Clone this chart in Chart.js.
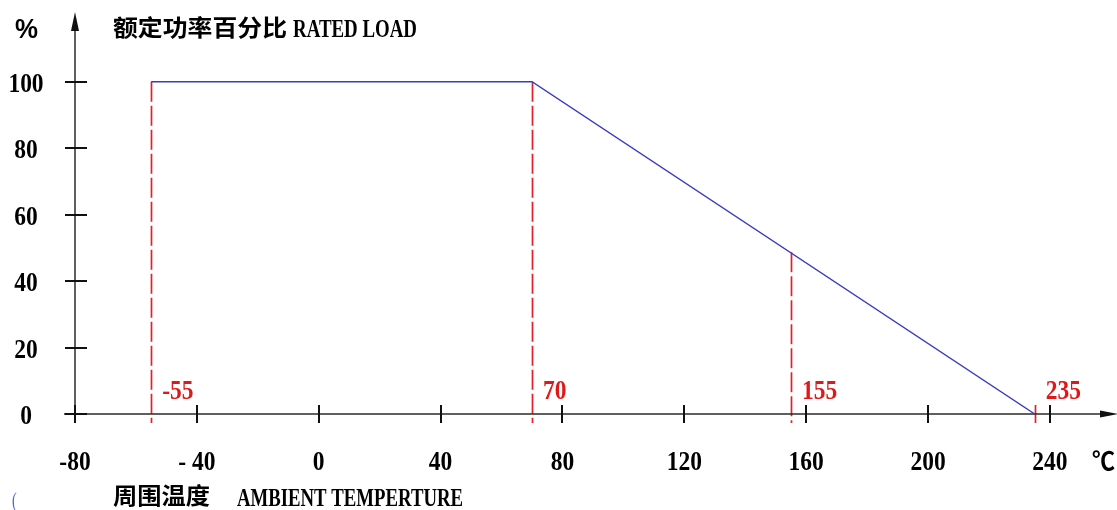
<!DOCTYPE html>
<html><head><meta charset="utf-8">
<script src="https://cdn.jsdelivr.net/npm/chart.js@4"></script>
<style>html,body{margin:0;padding:0;background:#fff;overflow:hidden}canvas{display:block}</style>
</head><body>
<canvas id="c" width="1117" height="510"></canvas>
<script>
// ---- data ----
const loadTemps = [-55, 70, 235];
const loadValues = [100, 100, 0];
const xTickValues = [-80, -40, 0, 40, 80, 120, 160, 200, 240];
const xTickLabels = ['-80', '- 40', '0', '40', '80', '120', '160', '200', '240'];
const yTickValues = [0, 20, 40, 60, 80, 100];
const yTickLabels = ['0', '20', '40', '60', '80', '100'];
const markerTemps = [-55, 70, 155, 235];
const markerLoads = [100, 100, 48.7, 0];
const markerLabels = ['-55', '70', '155', '235'];
const titleZh = '额定功率百分比';
const titleEn = 'RATED LOAD';
const xTitleZh = '周围温度';
const xTitleEn = 'AMBIENT TEMPERTURE';
const yUnit = '%';
const xUnit = '℃';

// ---- helpers ----
const NUM_FONT = 'bold 27px "Liberation Serif"';
const NUM_SX = 0.87;
function drawText(ctx, text, x, y, font, color, opts) {
  opts = opts || {};
  ctx.save();
  ctx.font = font; ctx.fillStyle = color; ctx.textBaseline = 'alphabetic'; ctx.textAlign = 'left';
  const w = ctx.measureText(text).width;
  let sx = opts.scaleX || 1;
  if (opts.width) sx = opts.width / w;
  const dw = w * sx;
  let left = x;
  if (opts.align === 'center') left = x - dw / 2;
  else if (opts.align === 'right') left = x - dw;
  ctx.translate(left, y); ctx.scale(sx, 1);
  ctx.fillText(text, 0, 0);
  ctx.restore();
}

const decor = {
  id: 'decor',
  beforeDatasetsDraw(chart) {
    const ctx = chart.ctx, xs = chart.scales.x, ys = chart.scales.y;
    const ax = xs.getPixelForValue(xs.min), ay = ys.getPixelForValue(0);
    ctx.save();
    // red marker lines
    ctx.strokeStyle = '#e3202a'; ctx.lineWidth = 1.7; ctx.setLineDash([20, 4]);
    markerTemps.forEach((t, i) => {
      const px = Math.round(xs.getPixelForValue(t)) + 0.5;
      const top = Math.min(ys.getPixelForValue(markerLoads[i]), ay - 9);
      ctx.beginPath(); ctx.moveTo(px, top); ctx.lineTo(px, ay + 9); ctx.stroke();
    });
    ctx.setLineDash([]);
    // axes
    ctx.strokeStyle = '#2a2a2a'; ctx.lineWidth = 1.5;
    ctx.beginPath(); ctx.moveTo(ax - 11, ay); ctx.lineTo(xs.right - 12, ay); ctx.stroke();
    ctx.beginPath(); ctx.moveTo(ax, ay + 9); ctx.lineTo(ax, ys.top + 14); ctx.stroke();
    // arrowheads
    ctx.fillStyle = '#111';
    ctx.beginPath(); ctx.moveTo(ax, ys.top); ctx.lineTo(ax - 4, ys.top + 19); ctx.lineTo(ax + 4, ys.top + 19); ctx.closePath(); ctx.fill();
    ctx.beginPath(); ctx.moveTo(xs.right + 2, ay); ctx.lineTo(xs.right - 17, ay - 3.5); ctx.lineTo(xs.right - 17, ay + 3.5); ctx.closePath(); ctx.fill();
    // ticks
    ctx.strokeStyle = '#111'; ctx.lineWidth = 2;
    yTickValues.forEach(v => {
      const py = Math.round(ys.getPixelForValue(v));
      ctx.beginPath(); ctx.moveTo(ax - 10, py); ctx.lineTo(ax + 12, py); ctx.stroke();
    });
    xTickValues.forEach(v => {
      const px = Math.round(xs.getPixelForValue(v));
      ctx.beginPath(); ctx.moveTo(px, ay - 9); ctx.lineTo(px, ay + 9); ctx.stroke();
    });
    ctx.restore();
  },
  afterDraw(chart) {
    const ctx = chart.ctx, xs = chart.scales.x, ys = chart.scales.y;
    const ay = ys.getPixelForValue(0);
    // y tick labels
    yTickValues.forEach((v, i) => {
      drawText(ctx, yTickLabels[i], 26, ys.getPixelForValue(v) + 10, NUM_FONT, '#000', {align: 'center', scaleX: NUM_SX});
    });
    // x tick labels
    xTickValues.forEach((v, i) => {
      drawText(ctx, xTickLabels[i], xs.getPixelForValue(v), ay + 56, NUM_FONT, '#000', {align: 'center', scaleX: NUM_SX});
    });
    // marker labels
    markerTemps.forEach((t, i) => {
      drawText(ctx, markerLabels[i], xs.getPixelForValue(t) + 11, ay - 15, NUM_FONT, '#e01818', {scaleX: NUM_SX});
    });
    // units
    drawText(ctx, yUnit, 15, 38, 'bold 27px "Liberation Sans"', '#000', {width: 23});
    drawText(ctx, xUnit, 1092, ay + 56, 'bold 25px "Noto Sans CJK SC"', '#000', {width: 23});
    // titles
    drawText(ctx, titleZh, 113, 36, 'bold 23px "Noto Sans CJK SC"', '#000', {width: 174});
    drawText(ctx, titleEn, 293, 37, 'bold 26px "Liberation Serif"', '#000', {width: 124});
    drawText(ctx, xTitleZh, 113, 504, 'bold 23px "Noto Sans CJK SC"', '#000', {width: 97});
    drawText(ctx, xTitleEn, 237, 506, 'bold 26px "Liberation Serif"', '#000', {width: 226});
    drawText(ctx, '(', 12, 507, '20px "Liberation Serif"', '#5068d0', {scaleX: 0.7});
  }
};

new Chart(document.getElementById('c'), {
  type: 'line',
  data: {
    datasets: [{
      data: loadTemps.map((t, i) => ({x: t, y: loadValues[i]})),
      borderColor: '#3a3ac6',
      borderWidth: 1.4,
      pointRadius: 0,
      fill: false,
      tension: 0
    }]
  },
  options: {
    responsive: false,
    animation: false,
    layout: {padding: {left: 75, right: 0, top: 12, bottom: 96}},
    scales: {
      x: {type: 'linear', min: -80, max: 262, display: false},
      y: {type: 'linear', min: 0, max: 121, display: false}
    },
    plugins: {legend: {display: false}, tooltip: {enabled: false}}
  },
  plugins: [decor]
});
</script>
</body></html>
